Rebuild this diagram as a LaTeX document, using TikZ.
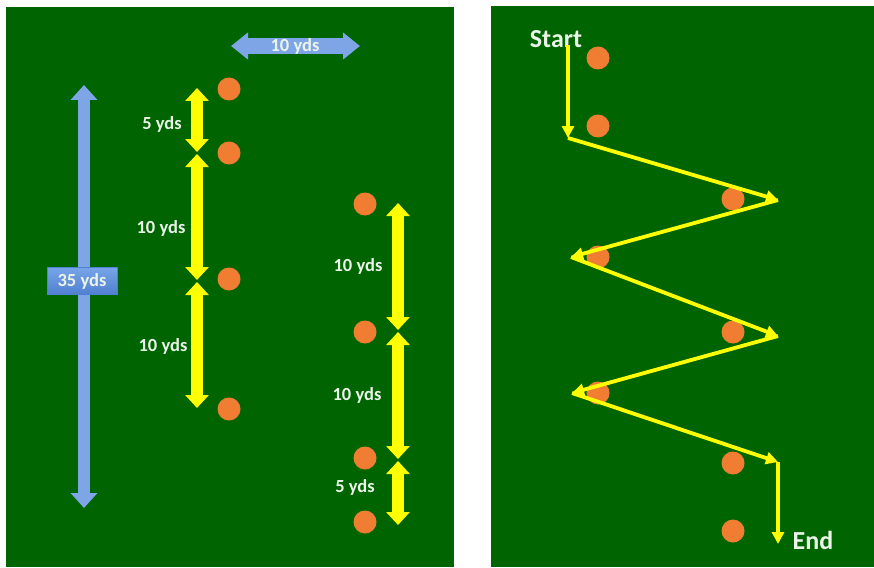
\documentclass[tikz,border=0pt]{standalone}
\usepackage{fontspec}
\setmainfont{Carlito}
\usetikzlibrary{arrows.meta}
\definecolor{field}{RGB}{0,100,0}
\definecolor{coneorange}{RGB}{240,125,50}
\definecolor{yel}{RGB}{255,255,0}
\definecolor{bluearr}{RGB}{126,166,230}
\definecolor{blueboxtop}{RGB}{120,165,232}
\definecolor{blueboxbot}{RGB}{80,128,208}
\definecolor{txt}{RGB}{234,244,232}
\begin{document}
\begin{tikzpicture}[x=1pt,y=-1pt,
  panel/.style={fill=field,draw=none},
  conedot/.style={circle,fill=coneorange,minimum size=23pt,inner sep=0pt},
  lbl/.style={text=txt,font=\bfseries\fontsize{18.5}{22}\selectfont,inner sep=0pt},
  biglbl/.style={text=txt,font=\bfseries\fontsize{26}{30}\selectfont,inner sep=0pt},
  ymeas/.style={draw=yel,line width=12pt,{Triangle[width=23pt,length=13pt]}-{Triangle[width=23pt,length=13pt]}},
  bmeas/.style={draw=bluearr,line width=12pt,{Triangle[width=26pt,length=15pt]}-{Triangle[width=26pt,length=15pt]}},
  bmeash/.style={draw=bluearr,line width=16pt,{Triangle[width=26pt,length=17pt]}-{Triangle[width=26pt,length=17pt]}},
  route/.style={draw=yel,line width=3.8pt,-{Triangle[width=12pt,length=12pt]}}
]
\useasboundingbox (0,0) rectangle (874,567);
\fill[white] (0,0) rectangle (874,567);
% panels
\fill[panel] (6,7) rectangle (454,567);
\fill[panel] (491,6) rectangle (874,567);

% ---------- left panel ----------
% big blue vertical arrow
\coordinate (bvT) at (84,85);
\coordinate (bvB) at (84,508);
\draw[bmeas] (bvT) -- (bvB);
\node[lbl,minimum width=70pt,minimum height=27pt,top color=blueboxtop,bottom color=blueboxbot,draw=blueboxbot,line width=0.6pt] (b35) at (82,281) {35 yds};

% horizontal blue arrow
\coordinate (bhL) at (231,46);
\coordinate (bhR) at (360,46);
\draw[bmeash] (bhL) -- (bhR);
\node[lbl] (b10) at (295,46) {10 yds};

% cones left
\node[conedot] (c1) at (229,89) {};
\node[conedot] (c2) at (229,153) {};
\node[conedot] (c3) at (229,279) {};
\node[conedot] (c4) at (229,409) {};
\node[conedot] (c5) at (365,204) {};
\node[conedot] (c6) at (365,332) {};
\node[conedot] (c7) at (365,458) {};
\node[conedot] (c8) at (365,522) {};

% yellow measure arrows, left column
\coordinate (ya1) at (197,88);
\coordinate (ya2) at (197,152);
\coordinate (ya3) at (197,154);
\coordinate (ya4) at (197,280);
\coordinate (ya5) at (197,282);
\coordinate (ya6) at (197,408);
\draw[ymeas] (ya1) -- (ya2);
\draw[ymeas] (ya3) -- (ya4);
\draw[ymeas] (ya5) -- (ya6);
\node[lbl] (l1) at (162,124) {5 yds};
\node[lbl] (l2) at (161,228) {10 yds};
\node[lbl] (l3) at (163,346) {10 yds};

% yellow measure arrows, right column
\coordinate (yb1) at (398,203);
\coordinate (yb2) at (398,330);
\coordinate (yb3) at (398,332);
\coordinate (yb4) at (398,459);
\coordinate (yb5) at (398,461);
\coordinate (yb6) at (398,525);
\draw[ymeas] (yb1) -- (yb2);
\draw[ymeas] (yb3) -- (yb4);
\draw[ymeas] (yb5) -- (yb6);
\node[lbl] (l4) at (358,266) {10 yds};
\node[lbl] (l5) at (357,395) {10 yds};
\node[lbl] (l6) at (355,487) {5 yds};

% ---------- right panel ----------
\node[conedot] (r1) at (598,58) {};
\node[conedot] (r2) at (598,126) {};
\node[conedot] (r3) at (733,199) {};
\node[conedot] (r4) at (598,257) {};
\node[conedot] (r5) at (733,332) {};
\node[conedot] (r6) at (598,393) {};
\node[conedot] (r7) at (733,463) {};
\node[conedot] (r8) at (733,531) {};

\node[biglbl] (start) at (556,39) {Start};
\node[biglbl] (end) at (813,540) {End};

\coordinate (p0) at (568,45);
\coordinate (p1) at (568,138);
\coordinate (p2) at (778,200);
\coordinate (p3) at (571,257);
\coordinate (p4) at (778,336);
\coordinate (p5) at (572,393);
\coordinate (p6) at (778,462);
\coordinate (p7) at (778,544);
\draw[route] (p0) -- (p1);
\draw[route] (p1) -- (p2);
\draw[route] (p2) -- (p3);
\draw[route] (p3) -- (p4);
\draw[route] (p4) -- (p5);
\draw[route] (p5) -- (p6);
\draw[route] (p6) -- (p7);
\end{tikzpicture}
\end{document}
